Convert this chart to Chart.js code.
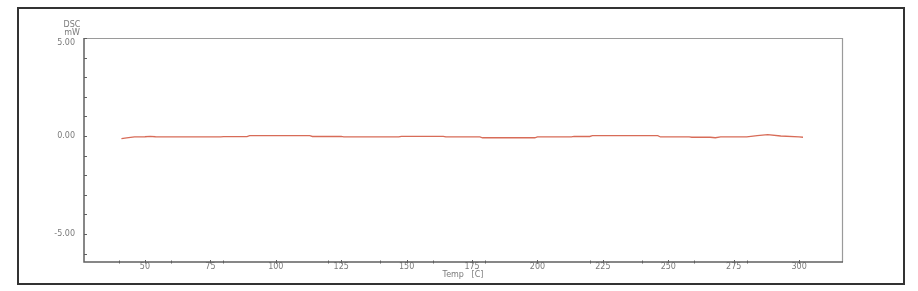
<!DOCTYPE html>
<html>
<head>
<meta charset="utf-8">
<script src="https://cdn.jsdelivr.net/npm/chart.js@4/dist/chart.umd.min.js"></script>
<style>
html,body{margin:0;padding:0;background:#fff;}
#wrap{width:918px;height:291px;position:relative;}
</style>
</head>
<body>
<div id="wrap"><canvas id="c" width="918" height="291"></canvas></div>
<script>
// Data (Temp [C] vs DSC mW)
const temps = [41, 43, 46, 50, 52, 54, 79, 80, 89, 90, 113, 114, 125, 126, 147, 148, 164, 165, 178, 179, 199, 200, 213, 214, 220, 221, 246, 247, 258, 259, 266, 268, 270, 280, 284, 288, 293, 300, 301.5];
const dsc   = [-0.14, -0.10, -0.05, -0.04, -0.015, -0.04, -0.05, -0.035, -0.035, 0.015, 0.015, -0.025, -0.025, -0.05, -0.05, -0.015, -0.015, -0.05, -0.05, -0.09, -0.09, -0.05, -0.05, -0.025, -0.025, 0.015, 0.015, -0.05, -0.05, -0.065, -0.065, -0.09, -0.05, -0.05, 0.02, 0.065, 0.0, -0.05, -0.065];

const xLabelTicks = [50, 75, 100, 125, 150, 175, 200, 225, 250, 275, 300];
const xMinorTicks = [40, 60, 80, 100, 120, 140, 160, 180, 200, 220, 240, 260, 280, 300];
const yLabelTicks = [-5, 0, 5];
const yMinorTicks = [-6, -5, -4, -3, -2, -1, 0, 1, 2, 3, 4, 5];
const xRange = [26.7, 316.4];
const yRange = [-6.43, 5.0];
const yTitleLines = ['DSC', 'mW'];
const xTitle = 'Temp   [C]';

const FONT = 'DejaVu Sans';
const TXT = '#7a7a7a';

const decor = {
  id: 'decor',
  afterDraw(chart) {
    const ctx = chart.ctx;
    const a = chart.chartArea;
    const xs = chart.scales.x, ys = chart.scales.y;
    ctx.save();
    // outer frame
    ctx.strokeStyle = '#333';
    ctx.lineWidth = 2;
    ctx.strokeRect(18, 8, 886, 276);
    // plot frame top/right
    ctx.strokeStyle = '#9a9a9a';
    ctx.lineWidth = 1.2;
    ctx.beginPath();
    ctx.moveTo(a.left, a.top + 0.5); ctx.lineTo(a.right + 0.5, a.top + 0.5);
    ctx.lineTo(a.right + 0.5, a.bottom);
    ctx.stroke();
    // left/bottom axes
    ctx.strokeStyle = '#606060';
    ctx.lineWidth = 1.5;
    ctx.beginPath();
    ctx.moveTo(a.left, a.top); ctx.lineTo(a.left, a.bottom); ctx.lineTo(a.right + 1, a.bottom);
    ctx.stroke();
    // y ticks (inward)
    ctx.strokeStyle = '#606060';
    ctx.lineWidth = 1;
    ctx.beginPath();
    yMinorTicks.forEach(v => {
      const y = Math.round(ys.getPixelForValue(v)) + 0.5;
      ctx.moveTo(a.left, y); ctx.lineTo(a.left + 3, y);
    });
    ctx.stroke();
    // x ticks
    ctx.beginPath();
    xMinorTicks.forEach(v => {
      const x = Math.round(xs.getPixelForValue(v)) + 0.5;
      ctx.moveTo(x, a.bottom - 1.5); ctx.lineTo(x, a.bottom + 1.5);
    });
    xLabelTicks.forEach(v => {
      const x = Math.round(xs.getPixelForValue(v)) + 0.5;
      ctx.moveTo(x, a.bottom - 2); ctx.lineTo(x, a.bottom + 1.5);
    });
    ctx.stroke();
    // y title lines
    ctx.fillStyle = TXT;
    ctx.font = '8px "' + FONT + '"';
    ctx.textAlign = 'center';
    ctx.textBaseline = 'middle';
    ctx.fillText(yTitleLines[0], 72, 25);
    ctx.fillText(yTitleLines[1], 72, 33);
    ctx.restore();
  }
};

new Chart(document.getElementById('c'), {
  type: 'line',
  data: {
    datasets: [{
      data: temps.map((t, i) => ({x: t, y: dsc[i]})),
      borderColor: 'rgb(216,108,88)',
      borderWidth: 1.3,
      pointRadius: 0,
      tension: 0,
      fill: false
    }]
  },
  options: {
    responsive: false,
    animation: false,
    devicePixelRatio: 1,
    layout: {padding: {left: 0, top: 38, right: 76, bottom: 0}},
    plugins: {legend: {display: false}, tooltip: {enabled: false}},
    scales: {
      x: {
        type: 'linear',
        min: xRange[0], max: xRange[1],
        grid: {display: false, drawTicks: false},
        border: {display: false},
        afterBuildTicks: s => { s.ticks = xLabelTicks.map(v => ({value: v})); },
        afterFit: s => { s.height = 29; },
        ticks: {
          autoSkip: false, maxRotation: 0, padding: 0,
          color: TXT, font: {family: FONT, size: 8},
          callback: v => String(v)
        },
        title: {
          display: true, text: xTitle, color: TXT,
          font: {family: FONT, size: 8},
          padding: {top: 0, bottom: 11}
        }
      },
      y: {
        type: 'linear',
        min: yRange[0], max: yRange[1],
        grid: {display: false, drawTicks: false},
        border: {display: false},
        afterBuildTicks: s => { s.ticks = yLabelTicks.map(v => ({value: v})); },
        afterFit: s => { s.width = 84; },
        ticks: {
          padding: 9,
          color: TXT, font: {family: FONT, size: 8},
          callback: v => (v === yRange[1] ? ['', Number(v).toFixed(2)] : Number(v).toFixed(2))
        }
      }
    }
  },
  plugins: [decor]
});
</script>
</body>
</html>
